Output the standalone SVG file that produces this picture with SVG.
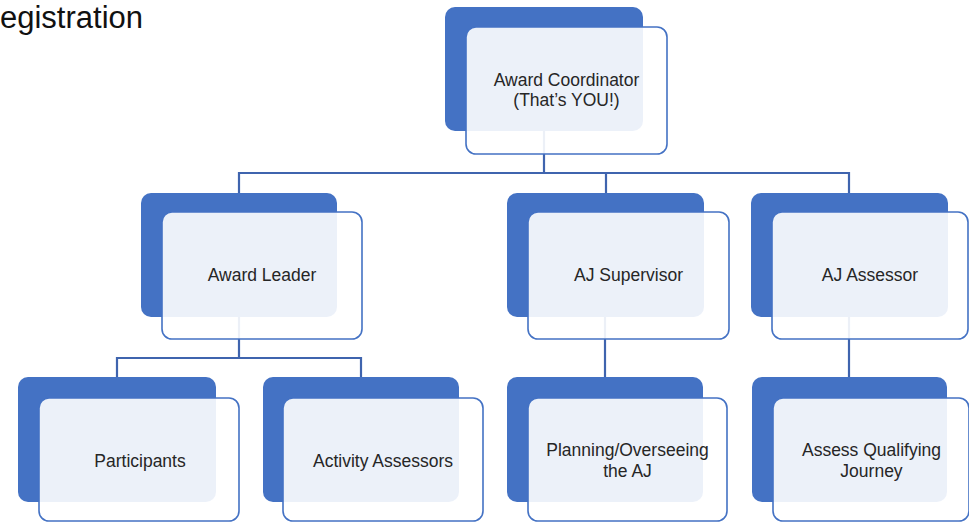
<svg xmlns="http://www.w3.org/2000/svg" width="969" height="522" viewBox="0 0 969 522">
<style>
.back{fill:#4472C4;}
.front{fill:#FFFFFF;fill-opacity:0.9;stroke:#4472C4;stroke-width:1.6;}
.lbl{font-family:"Liberation Sans",Arial,sans-serif;font-size:17.5px;fill:#262626;text-anchor:middle;dominant-baseline:central;}
.conn{fill:none;stroke:#3F64AE;stroke-width:2.2;}
.title{font-family:"Liberation Sans",Arial,sans-serif;font-size:31px;fill:#111;}
</style>
<rect width="969" height="522" fill="#fff"/>
<text class="title" x="0" y="28">egistration</text>
<g id="connectors">
<path class="conn" d="M544 131 V173 M239 173 H849 M239 172 V193 M606 172 V193 M849 172 V193"/>
<path class="conn" d="M239 317 V358 M117 358 H361 M117 357 V377 M361 357 V377"/>
<path class="conn" d="M605 317 V377"/>
<path class="conn" d="M849 317 V377"/>
</g>
<g id="coordinator">
<rect class="back" x="445" y="7" width="198" height="124" rx="10"/>
<rect class="front" x="466" y="27" width="201" height="127" rx="10"/>
<text class="lbl" x="566.5" y="80">Award Coordinator</text>
<text class="lbl" x="566.5" y="100">(That’s YOU!)</text>
</g>
<g id="leader">
<rect class="back" x="141" y="193" width="196" height="124" rx="10"/>
<rect class="front" x="162" y="212" width="200" height="127" rx="10"/>
<text class="lbl" x="262" y="275">Award Leader</text>
</g>
<g id="supervisor">
<rect class="back" x="507" y="193" width="197" height="124" rx="10"/>
<rect class="front" x="528" y="212" width="201" height="127" rx="10"/>
<text class="lbl" x="628.5" y="275">AJ Supervisor</text>
</g>
<g id="assessor">
<rect class="back" x="751" y="193" width="197" height="124" rx="10"/>
<rect class="front" x="772" y="212" width="196" height="127" rx="10"/>
<text class="lbl" x="870" y="275">AJ Assessor</text>
</g>
<g id="participants">
<rect class="back" x="18" y="377" width="198" height="125" rx="10"/>
<rect class="front" x="39" y="398" width="200" height="123" rx="10"/>
<text class="lbl" x="140" y="461">Participants</text>
</g>
<g id="activity">
<rect class="back" x="263" y="377" width="196" height="125" rx="10"/>
<rect class="front" x="283" y="398" width="200" height="123" rx="10"/>
<text class="lbl" x="383" y="461">Activity Assessors</text>
</g>
<g id="planning">
<rect class="back" x="507" y="377" width="196" height="125" rx="10"/>
<rect class="front" x="528" y="398" width="199" height="123" rx="10"/>
<text class="lbl" x="627.5" y="450">Planning/Overseeing</text>
<text class="lbl" x="627.5" y="471">the AJ</text>
</g>
<g id="assess">
<rect class="back" x="752" y="377" width="195" height="125" rx="10"/>
<rect class="front" x="773" y="398" width="196" height="123" rx="10"/>
<text class="lbl" x="871.5" y="450">Assess Qualifying</text>
<text class="lbl" x="871.5" y="471">Journey</text>
</g>
</svg>
